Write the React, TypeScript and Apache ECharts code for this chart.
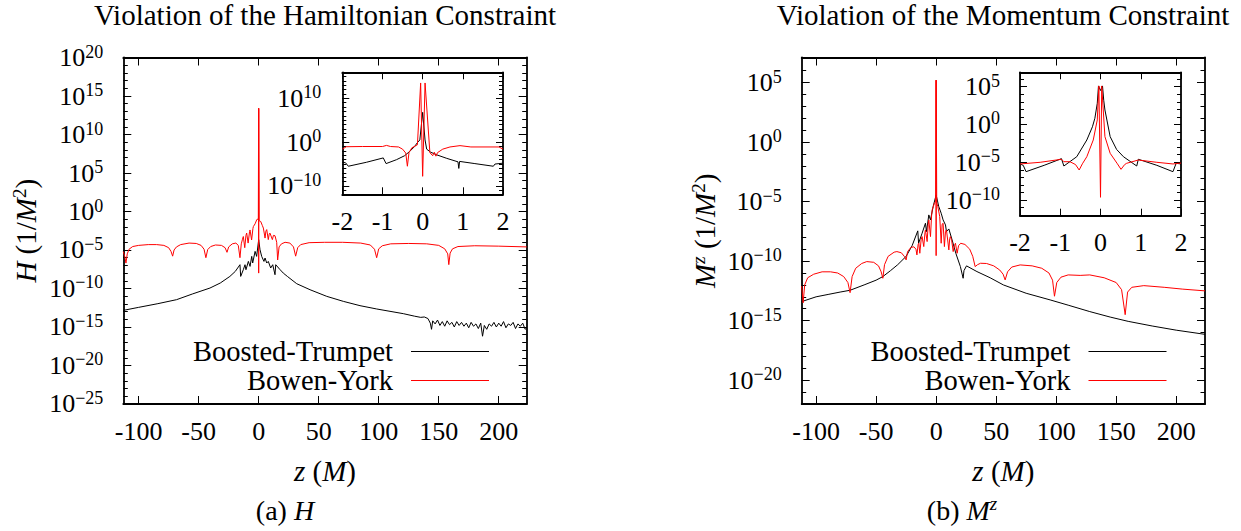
import React, { useEffect, useRef } from 'react';
import * as echarts from 'echarts';

const FONT = '"Liberation Serif", "Times New Roman", serif';
const BLACK = '#000000';
const RED = '#ff0000';

// ---- tick positions (x in M, y as decades of 10) ----
const zMainTicks = [-100, -50, 0, 50, 100, 150, 200];
const zInsetTicks = [-2, -1, 0, 1, 2];
const hMainDecades = [-25, -20, -15, -10, -5, 0, 5, 10, 15, 20];
const hInsetDecades = [-10, 0, 10];
const mMainDecades = [-20, -15, -10, -5, 0, 5];
const mInsetDecades = [-10, -5, 0, 5];

const seriesNames = ['Boosted-Trumpet', 'Bowen-York'];

// ---- data: [z (M), log10 of value] ----
// Hamiltonian constraint, main panel
const hTrumpetMain: number[][] = [
  [-112.8, -12.84], [-100, -12.45], [-84, -11.97], [-68.4, -11.45], [-55, -10.7], [-40.6, -9.94],
  [-32, -9.29], [-24, -8.43], [-19.5, -7.78], [-15.6, -6.91], [-15.0, -8.43], [-12.8, -7.56],
  [-11.4, -6.91], [-10.6, -7.56], [-8.6, -6.48], [-7.2, -7.13], [-5.8, -5.83], [-5.0, -6.69],
  [-3.0, -5.18], [-1.7, -5.83], [0, -3.66], [1.1, -4.96], [2.5, -5.83], [4.4, -6.48], [5.3, -6.04],
  [6.7, -6.69], [8.0, -6.48], [10.0, -7.34], [11.7, -6.91], [13.6, -8.21], [14.2, -6.91],
  [17.5, -7.5], [20.5, -8.0], [23.9, -8.43], [31.7, -9.38], [42.8, -10.16], [56.7, -11.02],
  [70.5, -11.67], [84.4, -12.23], [98.3, -12.66], [120.5, -13.27], [130, -13.6], [135, -13.75],
  [138, -13.7], [141, -13.9], [143, -14.5], [144, -15.3], [145, -14.2], [147, -14.6], [149, -14.1],
  [151, -14.8], [153, -14.3], [155, -14.9], [157, -14.2], [159, -14.7], [161, -14.4], [163, -15.0],
  [165, -14.3], [167, -14.8], [169, -14.4], [171, -14.9], [173, -14.5], [175, -15.1], [177, -14.4],
  [179, -14.9], [181, -14.6], [183, -15.2], [185, -14.5], [186.5, -16.2], [188, -14.8], [190, -15.3],
  [192, -14.6], [194, -14.9], [196, -14.4], [198, -15.0], [200, -14.5], [202, -14.9], [204, -14.3],
  [206, -15.1], [208, -14.6], [210, -14.8], [212, -14.4], [214, -15.2], [216, -14.6], [218, -14.9],
  [220, -14.5], [222, -15.3], [223.3, -15.1],
];
const hBowenMain: number[][] = [
  [-112.8, -5.2], [-111.5, -5.9], [-110.6, -6.7], [-109.5, -5.5], [-108, -4.9], [-105, -4.55],
  [-100, -4.4], [-92, -4.3], [-85, -4.3], [-79, -4.4], [-75, -4.7], [-73, -5.2], [-71.7, -5.8],
  [-70.5, -5.0], [-68.5, -4.6], [-65, -4.3], [-58, -4.1], [-52, -4.15], [-48, -4.4], [-45.5, -4.9],
  [-44, -6.0], [-42.5, -4.95], [-40, -4.55], [-36, -4.35], [-31, -4.4], [-28, -4.7], [-26.4, -5.3],
  [-25, -4.6], [-22, -4.2], [-19, -4.1], [-17, -4.4], [-15.6, -6.0], [-14.5, -4.2], [-13.5, -3.6],
  [-12.8, -3.25], [-11.6, -4.7], [-10.6, -3.1], [-10, -2.8], [-8.8, -4.1], [-7.6, -2.6], [-7.2, -2.4],
  [-5.9, -3.7], [-4.8, -2.2], [-4.4, -1.95], [-3, -1.6], [-1.7, -1.1], [-0.8, -0.95], [-0.3, -1.1],
  [-0.06, 13.4], [0, -8.0], [0.06, 13.4], [0.4, -1.2], [1.7, -1.3], [3, -1.8], [3.9, -2.15],
  [5.3, -3.45], [6, -2.55], [6.7, -2.35], [8, -3.65], [8.8, -2.9], [9.4, -2.8], [11.4, -3.65],
  [12.3, -3.1], [13.6, -3.15], [15, -4.0], [15.8, -6.3], [17, -4.6], [19, -4.2], [22, -4.0],
  [26, -4.1], [29, -4.6], [30.8, -5.8], [32.5, -4.7], [35, -4.3], [42, -4.05], [55, -4.0],
  [70, -4.0], [85, -4.1], [93, -4.35], [96.5, -4.9], [98.3, -6.0], [100, -4.85], [103, -4.45],
  [110, -4.2], [125, -4.15], [140, -4.2], [150, -4.4], [155, -4.85], [157.5, -5.5], [158.4, -6.9],
  [159.5, -5.4], [161.5, -4.85], [166, -4.55], [180, -4.45], [200, -4.5], [223.3, -4.6],
];
// Hamiltonian constraint, inset
const hTrumpetInset: number[][] = [
  [-2.0, -4.6], [-1.92, -4.7], [-1.85, -5.5], [-1.4, -4.6], [-0.98, -3.6], [-0.91, -4.9],
  [-0.65, -4.0], [-0.45, -3.1], [-0.32, -2.1], [-0.2, -1.0], [-0.13, -0.1], [-0.07, 0.5], [0, 6.8],
  [0.06, 0.5], [0.1, -1.6], [0.2, -2.3], [0.35, -2.9], [0.6, -3.7], [0.88, -4.5], [0.9, -6.0],
  [0.92, -4.4], [1.3, -4.9], [1.76, -5.5], [1.8, -5.0], [1.9, -4.9], [2.0, -4.8],
];
const hBowenInset: number[][] = [
  [-2.0, -1.6], [-1.9, -1.05], [-1.5, -1.0], [-1.0, -1.0], [-0.9, -0.75], [-0.8, -1.0], [-0.6, -1.1],
  [-0.5, -1.6], [-0.42, -2.5], [-0.38, -5.5], [-0.34, -2.4], [-0.27, -1.3], [-0.13, -0.6],
  [-0.05, 13.5], [0, -7.8], [0.06, 13.5], [0.18, -2.4], [0.25, -3.1], [0.29, -2.3], [0.33, -3.2],
  [0.37, -2.4], [0.5, -1.6], [0.68, -1.1], [0.93, -0.8], [1.2, -1.1], [1.9, -1.1], [2.0, -1.6],
];
// Momentum constraint, main panel
const mTrumpetMain: number[][] = [
  [-112, -13.4], [-100, -13.0], [-90, -12.8], [-80, -12.6], [-71.7, -12.45], [-60, -12.0],
  [-50, -11.6], [-44.4, -11.3], [-38, -10.8], [-32, -10.3], [-25, -9.6], [-20, -8.7], [-15.3, -7.46],
  [-14.6, -8.5], [-11.7, -7.66], [-8.9, -6.82], [-8, -7.52], [-6.1, -6.12], [-4.7, -6.54],
  [-2.5, -5.42], [0, -4.44], [2.2, -5.42], [4.2, -5.98], [5.8, -6.54], [7.8, -6.96], [8.6, -7.52],
  [10.6, -7.3], [13.3, -8.22], [16.4, -9.34], [20.2, -10.46], [22.5, -11.44], [23.2, -10.8],
  [25.3, -10.4], [34, -10.88], [45, -11.4], [56, -12.0], [75, -12.7], [95, -13.26], [110, -13.7],
  [128, -14.24], [145, -14.7], [160, -15.06], [180, -15.45], [200, -15.8], [224, -16.15],
];
const mBowenMain: number[][] = [
  [-112, -12.1], [-110.8, -13.5], [-109.5, -12.0], [-107, -11.4], [-102, -11.1], [-95, -10.9],
  [-88, -10.9], [-82, -11.0], [-77, -11.3], [-73.5, -11.8], [-71.7, -12.65], [-70, -11.3],
  [-67, -10.6], [-62, -10.2], [-57.8, -10.04], [-52, -10.1], [-48, -10.4], [-45.8, -10.9],
  [-44.4, -11.44], [-43, -10.3], [-40, -9.6], [-35, -9.25], [-32.7, -9.2], [-29, -9.3],
  [-26.5, -9.6], [-25, -9.9], [-23.8, -9.2], [-21, -8.85], [-18.5, -8.8], [-16.8, -9.0],
  [-16, -9.48], [-15, -8.6], [-14.4, -8.5], [-13.6, -9.34], [-12.5, -8.2], [-11.7, -7.94],
  [-10.3, -8.78], [-9.3, -7.6], [-8.9, -7.38], [-7.5, -8.36], [-6.6, -6.9], [-6.1, -6.54],
  [-4.7, -7.94], [-3.8, -6.2], [-3.3, -5.7], [-1.4, -5.13], [-0.4, -5.0], [-0.06, 5.2], [0, -9.54],
  [0.06, 5.2], [0.5, -5.1], [1.4, -5.42], [3, -6.26], [4.2, -8.5], [5, -6.9], [5.8, -6.82],
  [6.9, -8.78], [7.8, -7.5], [8.6, -7.38], [10.6, -9.06], [11.3, -8.1], [11.9, -7.94], [13, -8.3],
  [14.2, -9.2], [15.2, -8.7], [16.1, -8.5], [17.5, -9.34], [18.7, -8.7], [20.5, -8.5], [24, -8.6],
  [28, -9.0], [30.5, -9.6], [32.5, -10.46], [34.5, -10.3], [37, -10.18], [42, -10.2], [48, -10.4],
  [53, -10.75], [55.8, -11.1], [57.5, -11.58], [59.5, -10.9], [63, -10.5], [70, -10.32], [80, -10.4],
  [88, -10.6], [94, -11.0], [97, -11.6], [98.6, -12.95], [100.5, -11.8], [104, -11.35], [110, -11.16],
  [120, -11.2], [128, -11.16], [140, -11.4], [150, -11.8], [154.5, -12.4], [157.5, -14.5],
  [159.5, -12.6], [163, -12.2], [173, -12.06], [190, -12.2], [205, -12.35], [224, -12.5],
];
// Momentum constraint, inset
const mTrumpetInset: number[][] = [
  [-2.0, -5.22], [-1.92, -5.4], [-1.85, -6.24], [-1.4, -5.4], [-0.97, -4.52], [-0.91, -5.49],
  [-0.59, -4.26], [-0.34, -2.05], [-0.2, -0.3], [-0.14, 0.82], [-0.08, 2.8], [-0.05, 5.1], [0, 4.5],
  [0.05, 5.1], [0.08, 3.2], [0.11, 1.92], [0.24, -1.61], [0.4, -3.3], [0.57, -4.26], [0.9, -5.49],
  [0.94, -4.6], [1.4, -5.4], [1.8, -6.24], [1.88, -5.13], [2.0, -5.22],
];
const mBowenInset: number[][] = [
  [-2.0, -5.22], [-1.5, -5.0], [-0.97, -4.6], [-0.91, -4.92], [-0.76, -4.92], [-0.62, -5.3],
  [-0.53, -6.02], [-0.45, -5.2], [-0.34, -4.26], [-0.18, -2.05], [-0.08, 0.6], [-0.04, 5.1],
  [0, -9.63], [0.03, 5.1], [0.11, -1.61], [0.24, -3.81], [0.42, -5.2], [0.51, -5.93], [0.6, -5.3],
  [0.65, -5.13], [0.94, -4.7], [1.4, -5.0], [1.8, -5.22], [2.0, -5.1],
];

// ---- helpers ----
const toValues = (pts: number[][]) => pts.map(([z, e]) => [z, Math.pow(10, e)]);
const decadeValues = (a: number, b: number) => {
  const out: number[] = [];
  for (let e = Math.ceil(a); e <= Math.floor(b); e++) out.push(Math.pow(10, e));
  return out;
};
const supLabel = (v: number) => {
  const e = Math.round(Math.log10(v));
  return `{b|10}{s|${e < 0 ? '\u2212' + Math.abs(e) : String(e)}}`;
};
const TICK_FS = 26;
const SUP_FS = 18;
const NAME_FS = 29;
const labelRich = {
  b: { fontFamily: FONT, fontSize: TICK_FS, color: '#000', lineHeight: 30 },
  s: { fontFamily: FONT, fontSize: SUP_FS, color: '#000', lineHeight: 16, verticalAlign: 'top' },
};
const nameRich = {
  i: { fontFamily: FONT, fontSize: NAME_FS, fontStyle: 'italic', color: '#000', lineHeight: 32 },
  s: { fontFamily: FONT, fontSize: 19, color: '#000', lineHeight: 17, verticalAlign: 'top' },
  si: { fontFamily: FONT, fontSize: 19, fontStyle: 'italic', color: '#000', lineHeight: 17, verticalAlign: 'top' },
};
const frameLine = { show: true, onZero: false, lineStyle: { color: '#000', width: 1.8 } };
const hiddenLine = { show: false, onZero: false };
const tickStyle = (vals: number[], len: number) => ({
  show: true, inside: true, length: len, customValues: vals, lineStyle: { color: '#000', width: 1 },
});

function yAxesFor(grid: number, minE: number, maxE: number, majors: number[], majLen: number, minLen: number,
  margin: number, name?: string, nameGap?: number) {
  const common: any = {
    type: 'log', logBase: 10, gridIndex: grid,
    min: Math.pow(10, minE - 0.002), max: Math.pow(10, maxE + 0.002),
    splitLine: { show: false }, minorTick: { show: false }, minorSplitLine: { show: false },
  };
  const majorVals = majors.map((e) => Math.pow(10, e));
  const minorVals = decadeValues(minE, maxE);
  return [
    {
      ...common, position: 'left', axisLine: frameLine, axisTick: tickStyle(majorVals, majLen),
      axisLabel: { show: true, customValues: majorVals, margin, formatter: supLabel, rich: labelRich },
      name: name || '', nameLocation: 'middle', nameGap: nameGap || 0, nameRotate: 90,
      nameTextStyle: { fontFamily: FONT, fontSize: NAME_FS, color: '#000', lineHeight: 32, rich: nameRich },
    },
    { ...common, position: 'left', axisLine: hiddenLine, axisTick: tickStyle(minorVals, minLen), axisLabel: { show: false } },
    { ...common, position: 'right', axisLine: frameLine, axisTick: tickStyle(majorVals, majLen), axisLabel: { show: false } },
    { ...common, position: 'right', axisLine: hiddenLine, axisTick: tickStyle(minorVals, minLen), axisLabel: { show: false } },
  ];
}

function xAxesFor(grid: number, min: number, max: number, ticks: number[], len: number, margin: number,
  name?: string, nameGap?: number) {
  const common: any = { type: 'value', gridIndex: grid, min, max, splitLine: { show: false } };
  return [
    {
      ...common, position: 'bottom', axisLine: frameLine, axisTick: tickStyle(ticks, len),
      axisLabel: { show: true, customValues: ticks, margin, fontFamily: FONT, fontSize: TICK_FS, color: '#000' },
      name: name || '', nameLocation: 'middle', nameGap: nameGap || 0,
      nameTextStyle: { fontFamily: FONT, fontSize: NAME_FS, color: '#000', lineHeight: 32, rich: nameRich },
    },
    { ...common, position: 'top', axisLine: frameLine, axisTick: tickStyle(ticks, len), axisLabel: { show: false } },
  ];
}

const line = (name: string, g: number, data: number[][], color: string, z: number) => ({
  type: 'line', name, xAxisIndex: 2 * g, yAxisIndex: 4 * g, data: toValues(data),
  symbol: 'none', showSymbol: false, silent: true, z,
  lineStyle: { color, width: 1 }, itemStyle: { color },
});

const legendBase = (right: number) => ({
  data: seriesNames, orient: 'vertical', align: 'right', right, top: 337,
  icon: 'rect', itemWidth: 78, itemHeight: 1.2, itemGap: 0, padding: 0, selectedMode: false,
  textStyle: { fontFamily: FONT, fontSize: 28.5, color: '#000', lineHeight: 29, padding: [0, 13, 0, 0] },
});

const titleStyle = { fontFamily: FONT, fontSize: 29, fontWeight: 'normal', color: '#000' };
const captionStyle = {
  fontFamily: FONT, fontSize: 28, fontWeight: 'normal', color: '#000',
  rich: {
    i: { fontFamily: FONT, fontSize: 28, fontStyle: 'italic', color: '#000', lineHeight: 32 },
    si: { fontFamily: FONT, fontSize: 19, fontStyle: 'italic', color: '#000', lineHeight: 17, verticalAlign: 'top' },
  },
};

const option: any = {
  animation: false,
  backgroundColor: '#ffffff',
  title: [
    { text: 'Violation of the Hamiltonian Constraint', left: 325, top: 0, textAlign: 'center', padding: 0, textStyle: titleStyle },
    { text: 'Violation of the Momentum Constraint', left: 1003, top: 0, textAlign: 'center', padding: 0, textStyle: titleStyle },
    { text: '(a) {i|H}', left: 285, top: 494, textAlign: 'center', padding: 0, textStyle: captionStyle },
    { text: '(b) {i|M}{si|z}', left: 962, top: 494, textAlign: 'center', padding: 0, textStyle: captionStyle },
  ],
  legend: [legendBase(752), legendBase(74.5)],
  grid: [
    { left: 123.3, top: 57.5, width: 403.4, height: 346.5, outerBoundsMode: 'none' },
    { left: 342.3, top: 72.3, width: 160.7, height: 122, show: true, backgroundColor: '#fff', borderWidth: 0, outerBoundsMode: 'none' },
    { left: 801.7, top: 57.5, width: 403.3, height: 346.5, outerBoundsMode: 'none' },
    { left: 1020, top: 72.3, width: 161, height: 143.4, show: true, backgroundColor: '#fff', borderWidth: 0, outerBoundsMode: 'none' },
  ],
  xAxis: [
    ...xAxesFor(0, -112.8, 223.3, zMainTicks, 8, 14, '{i|z} ({i|M})', 51),
    ...xAxesFor(1, -2, 2, zInsetTicks, 7, 14),
    ...xAxesFor(2, -112, 224, zMainTicks, 8, 14, '{i|z} ({i|M})', 51),
    ...xAxesFor(3, -2, 2, zInsetTicks, 7, 14),
  ],
  yAxis: [
    ...yAxesFor(0, -25, 20, hMainDecades, 8, 4.5, 20, '{i|H} (1/{i|M}{s|2})', 81),
    ...yAxesFor(1, -11.9, 15.93, hInsetDecades, 7, 4, 21),
    ...yAxesFor(2, -22.0, 7.1, mMainDecades, 8, 4.5, 20, '{i|M}{si|z} (1/{i|M}{s|2})', 81),
    ...yAxesFor(3, -12.06, 6.9, mInsetDecades, 7, 4, 20),
  ],
  series: [
    line(seriesNames[0], 0, hTrumpetMain, BLACK, 3),
    line(seriesNames[1], 0, hBowenMain, RED, 4),
    line(seriesNames[0], 1, hTrumpetInset, BLACK, 3),
    line(seriesNames[1], 1, hBowenInset, RED, 4),
    line(seriesNames[0], 2, mTrumpetMain, BLACK, 3),
    line(seriesNames[1], 2, mBowenMain, RED, 4),
    line(seriesNames[0], 3, mTrumpetInset, BLACK, 3),
    line(seriesNames[1], 3, mBowenInset, RED, 4),
  ],
};

export default function App() {
  const ref = useRef<HTMLDivElement>(null);
  useEffect(() => {
    if (!ref.current) return;
    const chart = echarts.init(ref.current, null, { renderer: 'svg' });
    chart.setOption(option);
    return () => chart.dispose();
  }, []);
  return <div ref={ref} style={{ position: 'fixed', left: 0, top: 0, width: 1241, height: 531, background: '#fff' }} />;
}
